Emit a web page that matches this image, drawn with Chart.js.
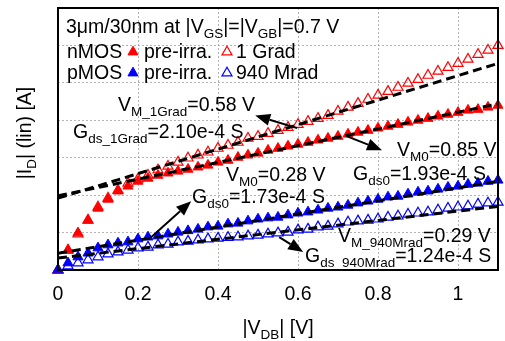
<!DOCTYPE html>
<html lang="en">
<head>
<meta charset="UTF-8">
<title>|ID| vs |VDB|</title>
<script src="https://cdn.jsdelivr.net/npm/chart.js@4.4.1/dist/chart.umd.min.js"></script>
<style>
  html, body { margin: 0; padding: 0; background: #fff; }
</style>
</head>
<body>
<canvas id="chart" width="505" height="341"></canvas>
<script>
// |V_DB| sweep, V
const vdb = [0, 0.025, 0.05, 0.075, 0.1, 0.125, 0.15, 0.175, 0.2, 0.225, 0.25, 0.275, 0.3, 0.325, 0.35, 0.375,
  0.4, 0.425, 0.45, 0.475, 0.5, 0.525, 0.55, 0.575, 0.6, 0.625, 0.65, 0.675, 0.7, 0.725, 0.75, 0.775,
  0.8, 0.825, 0.85, 0.875, 0.9, 0.925, 0.95, 0.975, 1, 1.025, 1.05, 1.075, 1.1]

// |I_D| in grid units (linear axis, no tick labels)
const nPre = [0, 0.53, 0.99, 1.33, 1.65, 1.89, 2.11, 2.24, 2.37, 2.45, 2.53, 2.59, 2.64, 2.69, 2.75, 2.80,
  2.88, 2.93, 3.01, 3.07, 3.12, 3.20, 3.25, 3.31, 3.36, 3.41, 3.47, 3.52, 3.57, 3.63, 3.68, 3.73,
  3.79, 3.84, 3.89, 3.95, 4.00, 4.05, 4.11, 4.16, 4.21, 4.27, 4.29, 4.35, 4.40]
const n1Grad = [0, 0.53, 0.96, 1.33, 1.68, 1.92, 2.13, 2.32, 2.43, 2.53, 2.67, 2.77, 2.88, 2.99, 3.07, 3.15,
  3.25, 3.33, 3.41, 3.52, 3.57, 3.65, 3.73, 3.81, 3.89, 3.97, 4.05, 4.13, 4.24, 4.35, 4.45, 4.56,
  4.67, 4.77, 4.88, 4.99, 5.09, 5.20, 5.31, 5.41, 5.52, 5.63, 5.76, 5.87, 6.00]
const pPre = [0, 0.19, 0.35, 0.45, 0.59, 0.67, 0.72, 0.75, 0.83, 0.88, 0.91, 0.96, 1.01, 1.05, 1.09, 1.15,
  1.17, 1.23, 1.25, 1.31, 1.36, 1.39, 1.41, 1.47, 1.52, 1.55, 1.60, 1.65, 1.68, 1.73, 1.79, 1.84,
  1.89, 1.95, 1.97, 2.03, 2.08, 2.11, 2.16, 2.21, 2.24, 2.29, 2.32, 2.37, 2.40]
const p940Mrad = [0, 0.11, 0.19, 0.27, 0.35, 0.43, 0.48, 0.53, 0.59, 0.61, 0.67, 0.69, 0.75, 0.77, 0.80, 0.83,
  0.85, 0.87, 0.88, 0.91, 0.93, 0.96, 0.99, 1.01, 1.07, 1.09, 1.15, 1.17, 1.23, 1.28, 1.31, 1.33,
  1.36, 1.41, 1.44, 1.49, 1.52, 1.55, 1.60, 1.65, 1.68, 1.71, 1.76, 1.79, 1.81]

// linear fits, end values at |V_DB| = 0 and 1.1
const fitX = [0, 1.1]
const fitN1Grad = [1.92, 5.52]
const fitNPre = [1.98, 4.44]
const fitPPre = [0.45, 2.37]
const fitP940 = [0.32, 1.70]

const xTicks = [0, 0.2, 0.4, 0.6, 0.8, 1]
const xTickLabels = ['0', '0.2', '0.4', '0.6', '0.8', '1']

const FAM = "'Liberation Sans', Arial, sans-serif"
const MAIN = 19.5, SUB = 13.5, SUB_DY = 5
const MARK_R = 5.8

// annotation texts: [text, isSub] runs, anchored in data units (left, baseline)
const notes = [
  { parts: [['V', 0], ['M_1Grad', 1], ['=0.58 V', 0]], x: 0.15, y: 4.24 },
  { parts: [['G', 0], ['ds_1Grad', 1], ['=2.10e-4 S', 0]], x: 0.0375, y: 3.52 },
  { parts: [['V', 0], ['M0', 1], ['=0.85 V', 0]], x: 0.8475, y: 3.04 },
  { parts: [['G', 0], ['ds0', 1], ['=1.93e-4 S', 0]], x: 0.7375, y: 2.4 },
  { parts: [['V', 0], ['M0', 1], ['=0.28 V', 0]], x: 0.42, y: 2.37 },
  { parts: [['G', 0], ['ds0', 1], ['=1.73e-4 S', 0]], x: 0.335, y: 1.79 },
  { parts: [['V', 0], ['M_940Mrad', 1], ['=0.29 V', 0]], x: 0.7, y: 0.75 },
  { parts: [['G', 0], ['ds_940Mrad', 1], ['=1.24e-4 S', 0]], x: 0.6175, y: 0.21 },
]
const arrows = [
  { from: [0.598, 3.79], to: [0.493, 4.13] },
  { from: [0.723, 3.57], to: [0.81, 3.2] },
  { from: [0.23, 0.85], to: [0.333, 1.84] },
  { from: [0.553, 0.88], to: [0.613, 0.48] },
]

function pts(xs, ys) {
  return ys.map((y, i) => ({ x: xs[i], y: y }))
}

function font(sub) { return (sub ? SUB : MAIN) + 'px ' + FAM }

function richWidth(ctx, parts) {
  let w = 0
  parts.forEach(p => { ctx.font = font(p[1]); w += ctx.measureText(p[0]).width })
  return w
}

function drawRich(ctx, parts, x, y) {
  parts.forEach(p => {
    ctx.font = font(p[1])
    ctx.fillText(p[0], x, y + (p[1] ? SUB_DY : 0))
    x += ctx.measureText(p[0]).width
  })
}

function drawArrow(ctx, x1, y1, x2, y2) {
  const a = Math.atan2(y2 - y1, x2 - x1)
  const hl = 15, hw = 6
  const bx = x2 - hl * Math.cos(a), by = y2 - hl * Math.sin(a)
  ctx.beginPath()
  ctx.moveTo(x1, y1)
  ctx.lineTo(bx, by)
  ctx.lineWidth = 2
  ctx.strokeStyle = '#000'
  ctx.stroke()
  ctx.beginPath()
  ctx.moveTo(x2, y2)
  ctx.lineTo(bx + hw * Math.sin(a), by - hw * Math.cos(a))
  ctx.lineTo(bx - hw * Math.sin(a), by + hw * Math.cos(a))
  ctx.closePath()
  ctx.fillStyle = '#000'
  ctx.fill()
}

function marker(ctx, x, y, color, open) {
  ctx.save()
  ctx.fillStyle = open ? 'rgba(0,0,0,0)' : color
  ctx.strokeStyle = color
  ctx.lineWidth = open ? 1.2 : 1
  Chart.helpers.drawPoint(ctx, { pointStyle: 'triangle', radius: MARK_R, borderWidth: open ? 1.2 : 1, rotation: 0 }, x, y)
  ctx.restore()
}

const decor = {
  id: 'decor',
  afterDraw(chart) {
    const ctx = chart.ctx
    const a = chart.chartArea
    const sx = chart.scales.x, sy = chart.scales.y
    ctx.save()
    ctx.fillStyle = '#000'
    ctx.textAlign = 'left'
    ctx.textBaseline = 'alphabetic'

    // legend block
    const L = a.left, T = a.top
    drawRich(ctx, [['3\u03bcm/30nm at |V', 0], ['GS', 1], ['|=|V', 0], ['GB', 1], ['|=0.7 V', 0]], L + 8, T + 25)
    drawRich(ctx, [['nMOS', 0]], L + 9, T + 50)
    drawRich(ctx, [['pre-irra.', 0]], L + 86, T + 50)
    drawRich(ctx, [['1 Grad', 0]], L + 178, T + 50)
    drawRich(ctx, [['pMOS', 0]], L + 9, T + 71)
    drawRich(ctx, [['pre-irra.', 0]], L + 86, T + 71)
    drawRich(ctx, [['940 Mrad', 0]], L + 178, T + 71)
    marker(ctx, L + 75, T + 44, '#ff0000', false)
    marker(ctx, L + 169, T + 44, '#ff0000', true)
    marker(ctx, L + 75, T + 65, '#0000ff', false)
    marker(ctx, L + 169, T + 65, '#0000ff', true)

    // annotations
    ctx.fillStyle = '#000'
    notes.forEach(n => drawRich(ctx, n.parts, sx.getPixelForValue(n.x), sy.getPixelForValue(n.y)))
    arrows.forEach(r => drawArrow(ctx,
      sx.getPixelForValue(r.from[0]), sy.getPixelForValue(r.from[1]),
      sx.getPixelForValue(r.to[0]), sy.getPixelForValue(r.to[1])))

    // axis titles
    ctx.fillStyle = '#000'
    const xt = [['|V', 0], ['DB', 1], ['| [V]', 0]]
    drawRich(ctx, xt, (a.left + a.right) / 2 - richWidth(ctx, xt) / 2, 334)
    const yt = [['|I', 0], ['D', 1], ['| (lin) [A]', 0]]
    ctx.translate(31, 133)
    ctx.rotate(-Math.PI / 2)
    drawRich(ctx, yt, -richWidth(ctx, yt) / 2, 0)
    ctx.restore()

    // frame
    ctx.save()
    ctx.strokeStyle = '#000'
    ctx.lineWidth = 2
    ctx.strokeRect(a.left, a.top, a.right - a.left, a.bottom - a.top)
    ctx.restore()
  }
}

function fitSet(ys) {
  return {
    type: 'line', data: pts(fitX, ys), borderColor: '#000', borderWidth: 3, borderDash: [9, 5],
    pointRadius: 0, fill: false, showLine: true, clip: 0
  }
}

function markSet(ys, color, open) {
  return {
    data: pts(vdb, ys), showLine: false, pointStyle: 'triangle', pointRadius: MARK_R, pointHoverRadius: MARK_R,
    backgroundColor: open ? 'rgba(0,0,0,0)' : color, borderColor: color, borderWidth: open ? 1.2 : 1,
    clip: false
  }
}

const grid = { color: '#b4b4b4', lineWidth: 1, drawTicks: false }

// first dataset ends up on top
new Chart(document.getElementById('chart'), {
  type: 'scatter',
  data: {
    datasets: [
      fitSet(fitN1Grad), fitSet(fitNPre), fitSet(fitPPre), fitSet(fitP940),
      markSet(p940Mrad, '#0000ff', true), markSet(n1Grad, '#ff0000', true),
      markSet(pPre, '#0000ff', false), markSet(nPre, '#ff0000', false),
    ]
  },
  options: {
    responsive: false,
    devicePixelRatio: 1,
    animation: false,
    events: [],
    layout: { padding: { left: 0, right: 7, top: 8, bottom: 0 } },
    plugins: { legend: { display: false }, tooltip: { enabled: false } },
    scales: {
      x: {
        type: 'linear', min: 0, max: 1.1,
        afterBuildTicks: s => { s.ticks = xTicks.map(v => ({ value: v })) },
        afterFit: s => { s.height = 71 },
        ticks: {
          callback: (v, i) => xTickLabels[i], color: '#000', padding: 13,
          font: { size: MAIN, family: FAM }, maxRotation: 0, autoSkip: false
        },
        grid: grid,
        border: { display: false, dash: [2, 2] }
      },
      y: {
        type: 'linear', min: 0, max: 7,
        ticks: { display: false, stepSize: 1 },
        afterFit: s => { s.width = 58 },
        grid: grid,
        border: { display: false, dash: [2, 2] }
      }
    }
  },
  plugins: [decor]
})
</script>
</body>
</html>
